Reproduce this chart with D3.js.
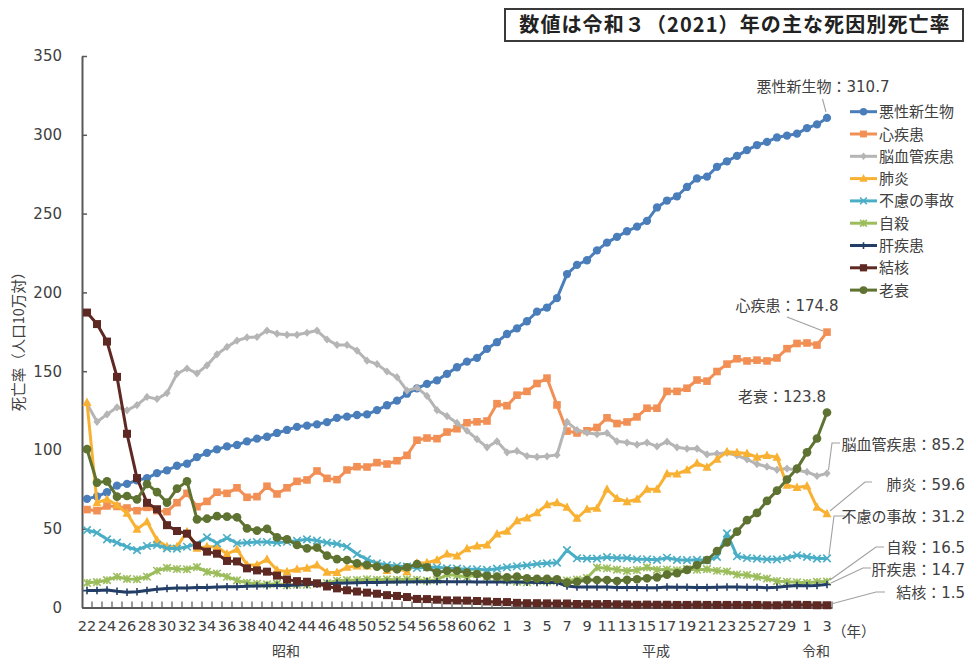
<!DOCTYPE html>
<html><head><meta charset="utf-8">
<script src="https://cdn.jsdelivr.net/npm/d3@7"></script>
<style>body{margin:0;background:#fff}svg{display:block}</style>
</head><body><svg id="c" width="968" height="659"></svg>
<script>
// ---------- data ----------
const categories = ["22","23","24","25","26","27","28","29","30","31","32","33","34","35","36","37","38","39","40","41","42","43","44","45","46","47","48","49","50","51","52","53","54","55","56","57","58","59","60","61","62","63",
"1","2","3","4","5","6","7","8","9","10","11","12","13","14","15","16","17","18","19","20","21","22","23","24","25","26","27","28","29","30",
"1","2","3"];
const seriesNames = ["悪性新生物","心疾患","脳血管疾患","肺炎","不慮の事故","自殺","肝疾患","結核","老衰"];
const cancer = [69.0,70.6,73.2,77.4,78.5,80.8,82.2,85.3,87.1,90.0,91.3,95.5,98.2,100.4,102.3,103.2,105.5,107.2,108.4,110.8,112.7,114.7,115.5,116.3,117.7,120.4,121.2,122.2,122.6,125.3,128.4,131.3,135.7,139.1,142.0,144.2,148.3,152.5,156.1,158.5,164.2,168.4,173.6,177.2,181.7,187.8,190.4,196.4,211.6,217.5,220.4,226.7,231.6,235.2,238.8,241.7,245.4,253.9,258.3,261.0,266.9,272.3,273.5,279.7,283.2,286.6,290.3,293.5,295.5,298.3,299.5,300.7,304.2,306.6,310.7];
const heart = [62.2,61.5,64.5,64.2,63.2,61.5,63.6,61.5,60.9,66.6,72.5,64.0,67.4,73.2,72.5,76.0,70.0,70.4,77.0,72.1,76.0,80.1,81.0,86.7,82.0,81.2,87.3,89.4,89.2,92.0,91.1,93.2,96.6,106.2,107.6,107.2,111.4,113.5,117.3,117.9,118.4,129.4,128.1,134.8,137.2,142.2,145.6,128.6,112.0,110.8,112.2,114.3,120.4,116.8,117.8,121.0,126.5,126.5,137.2,137.2,139.2,144.4,143.7,149.8,154.5,157.9,156.5,157.0,156.5,158.4,164.3,167.6,167.9,166.6,174.8];
const cerebro = [129.4,117.9,122.6,127.1,125.2,128.5,133.7,132.4,136.1,148.4,151.7,148.6,153.7,160.7,165.4,169.4,171.4,171.7,175.8,173.8,173.1,173.1,174.4,175.8,170.1,166.7,166.7,163.1,156.7,154.5,149.8,146.2,137.7,139.5,134.3,125.3,121.5,117.2,112.2,106.9,101.7,105.5,98.5,99.4,96.2,95.6,96.0,96.9,117.9,112.6,111.0,110.0,110.8,105.5,104.7,103.4,104.7,102.3,105.3,101.7,100.8,100.9,97.2,97.7,98.2,96.5,94.1,91.1,89.4,87.4,88.2,87.1,86.1,83.5,85.2];
const pneumonia = [130.1,66.6,68.7,65.1,59.8,49.7,54.5,42.9,38.6,38.6,48.2,37.6,38.6,38.6,34.0,37.0,27.0,27.0,30.6,23.9,22.8,24.3,24.9,27.0,22.5,22.2,25.6,26.4,26.4,27.0,23.5,25.1,22.8,28.1,28.5,30.2,34.0,32.7,37.4,39.1,39.7,46.7,48.4,55.1,56.9,60.2,65.3,66.6,63.6,56.7,62.4,63.0,75.1,69.2,67.2,68.7,75.1,75.1,85.0,84.8,87.3,91.6,89.0,94.1,98.9,98.4,97.8,95.4,96.5,95.4,77.7,76.2,77.2,63.6,59.6];
const accidents = [49.2,47.5,43.3,41.2,38.6,36.5,39.1,39.7,37.6,37.4,38.6,40.4,44.6,40.8,44.2,40.8,41.2,41.6,41.6,41.2,41.8,42.4,43.3,42.5,41.2,40.4,38.6,34.0,30.6,28.1,27.0,26.4,26.0,25.1,25.6,25.6,24.9,24.7,24.3,24.3,23.9,24.7,25.6,26.2,26.8,27.7,28.1,28.5,36.5,31.3,31.1,31.1,32.0,31.4,31.4,30.7,30.7,30.3,31.6,30.3,30.1,30.3,30.0,32.2,47.1,32.6,31.5,31.1,30.6,30.6,31.5,33.2,32.2,31.1,31.2];
const suicide = [15.7,16.2,17.4,19.6,18.2,18.0,19.6,23.4,25.2,24.5,24.3,25.7,22.7,21.6,19.6,17.3,15.7,15.1,14.7,15.2,14.2,14.5,14.5,15.3,15.6,17.0,17.4,17.5,18.0,17.6,17.9,17.6,18.0,17.7,17.1,17.5,21.0,20.4,19.4,21.2,19.6,19.4,17.3,16.4,16.1,16.9,16.6,16.9,17.2,17.8,18.8,25.4,25.0,24.1,23.3,23.8,25.5,24.0,24.2,23.7,24.4,24.0,24.4,23.4,22.9,21.0,20.7,19.5,18.5,16.8,16.4,16.1,15.7,16.4,16.5];
const liver = [10.8,10.9,11.2,10.4,9.8,10.1,10.9,11.6,12.1,12.4,12.5,12.7,12.8,13.1,13.3,13.3,13.6,13.7,13.8,14.0,14.1,14.3,14.6,14.9,15.2,15.4,15.6,15.8,15.9,16.0,16.1,16.2,16.3,16.4,16.4,16.5,16.4,16.4,16.4,16.3,16.3,16.3,16.2,16.2,16.1,16.0,16.0,15.9,13.7,13.1,13.0,13.0,13.1,12.8,12.8,12.7,12.6,12.6,13.0,12.9,12.9,12.8,12.8,12.9,13.1,13.0,12.9,12.9,12.6,12.9,13.6,14.0,13.9,14.1,14.7];
const tuberculosis = [187.2,179.9,168.8,146.4,110.3,82.2,66.5,62.4,52.3,48.6,46.9,39.4,35.5,34.2,29.6,29.3,24.9,23.6,22.8,20.3,17.8,16.8,16.4,15.4,13.4,12.2,11.0,10.2,9.5,8.8,7.9,7.4,6.7,5.5,5.4,5.0,4.6,4.5,4.4,4.2,3.9,3.6,3.5,3.0,2.8,2.8,2.7,2.6,2.6,2.3,2.2,2.2,2.3,2.1,2.0,1.8,1.9,1.8,1.8,1.7,1.7,1.8,1.7,1.7,1.7,1.7,1.6,1.7,1.5,1.5,1.8,1.8,1.7,1.5,1.5];
const senility = [100.5,79.3,80.1,70.4,70.8,68.7,78.4,73.3,66.6,75.5,80.1,56.0,56.4,58.0,57.7,57.3,50.3,48.8,50.0,44.6,43.3,39.7,37.6,38.1,33.0,30.8,30.2,28.1,27.0,26.0,24.9,24.3,25.6,27.6,25.6,22.2,23.4,23.4,22.2,21.3,20.1,19.6,19.2,19.7,18.6,18.3,18.3,18.0,15.8,16.4,17.5,17.5,17.5,16.9,17.6,18.0,18.6,19.2,20.9,21.8,23.9,27.0,30.2,35.9,41.4,48.2,55.5,60.1,67.7,74.2,81.3,88.2,98.5,107.3,123.8];
const yTicks = [0,50,100,150,200,250,300,350];
const eraNames = ["昭和","平成","令和"];
const latestLabels = ["悪性新生物：310.7","心疾患：174.8","脳血管疾患：85.2","肺炎：59.6","不慮の事故：31.2","自殺：16.5","肝疾患：14.7","結核：1.5","老衰：123.8"];
const titleText = "数値は令和３（2021）年の主な死因別死亡率";
const yTitle = "死亡率（人口10万対）";
const yearUnit = "（年）";

// ---------- styles ----------
const allValues = [cancer,heart,cerebro,pneumonia,accidents,suicide,liver,tuberculosis,senility];
const colors = ["#4a7ebb","#f28f55","#b5b5b5","#f8b133","#4aaec6","#9cbd5c","#233e66","#5e2823","#5e7331"];
const markers = ["circle","square","diamond","triangle","x","asterisk","plus","square","circle"];
const FONT = "'DejaVu Sans','Noto Sans CJK JP',sans-serif";
const TXT = "#404040";

const svg = d3.select("#c");
const x = d3.scaleBand().domain(d3.range(categories.length)).range([82, 832]).padding(0);
const cx = i => x(i) + x.bandwidth()/2;
const y = d3.scaleLinear().domain([0,350]).range([607.6, 56]);

// title box
svg.append("rect").attr("x",505).attr("y",9).attr("width",458).attr("height",32)
  .attr("fill","#fff").attr("stroke","#3a3a3a").attr("stroke-width",2);
svg.append("text").attr("x",735).attr("y",32).attr("text-anchor","middle")
  .attr("font-family","'Noto Sans CJK JP',sans-serif").attr("font-weight","bold")
  .attr("font-size",20).attr("letter-spacing",1.1).attr("fill","#222").text(titleText);

// y axis
const yAxis = d3.axisLeft(y).tickValues(yTicks).tickSizeInner(-5).tickSizeOuter(0).tickPadding(20);
const gy = svg.append("g").attr("transform","translate(82,0)").call(yAxis);
gy.select(".domain").attr("stroke","#595959").attr("stroke-width",2);
gy.selectAll(".tick line").attr("stroke","#595959").attr("stroke-width",1.5);
gy.selectAll(".tick text").attr("font-family",FONT).attr("font-size",15).attr("fill",TXT);

svg.append("text").attr("transform","translate(24,338) rotate(-90)").attr("text-anchor","middle")
  .attr("font-family","'Noto Sans CJK JP',sans-serif").attr("font-size",14.5).attr("fill",TXT).text(yTitle);

// x axis
const xAxis = d3.axisBottom(x).tickSize(0).tickPadding(15)
  .tickFormat((d,i) => i % 2 === 0 ? categories[i] : "");
const gx = svg.append("g").attr("transform","translate(0,607.6)").call(xAxis);
gx.select(".domain").attr("stroke","#595959").attr("stroke-width",2);
gx.selectAll(".tick text").attr("font-family",FONT).attr("font-size",14.5).attr("fill",TXT).attr("dy","0.55em");
// inner tick marks at band boundaries
const bounds = d3.range(1, categories.length).map(i => x(i)).concat([x(categories.length-1)+x.bandwidth()]);
svg.append("g").selectAll("line").data(bounds).join("line")
  .attr("x1",d=>d).attr("x2",d=>d).attr("y1",607.6).attr("y2",601.5)
  .attr("stroke","#595959").attr("stroke-width",1.2);
svg.append("text").attr("x",832).attr("y",637).attr("text-anchor","start")
  .attr("font-family","'Noto Sans CJK JP',sans-serif").attr("font-size",14.5).attr("fill",TXT).text(yearUnit);
// era labels
const eraIdx = [20, 57, 73];
eraNames.forEach((n,k) => {
  svg.append("text").attr("x",cx(eraIdx[k])-1).attr("y",656).attr("text-anchor","middle")
    .attr("font-family","'Noto Sans CJK JP',sans-serif").attr("font-size",14).attr("fill",TXT).text(n);
});

// marker path
function markerPath(type, s) {
  const h = s/2;
  switch(type) {
    case "circle": return d3.symbol(d3.symbolCircle, s*s*0.8)();
    case "square": return `M${-h},${-h}H${h}V${h}H${-h}Z`;
    case "diamond": return `M0,${-h-0.5}L${h},0L0,${h+0.5}L${-h},0Z`;
    case "triangle": return `M0,${-h-1}L${h+0.5},${h-0.5}L${-h-0.5},${h-0.5}Z`;
    case "x": return `M${-h},${-h}L${h},${h}M${-h},${h}L${h},${-h}`;
    case "asterisk": return `M${-h},${-h}L${h},${h}M${-h},${h}L${h},${-h}M0,${-h}V${h}`;
    case "plus": return `M0,${-h}V${h}M${-h},0H${h}`;
  }
}
const strokeMarkers = new Set(["x","asterisk","plus"]);
const mSize = [8.2,7.6,7.2,8,7.5,7.5,7.5,8,8.6];

const line = d3.line().x((d,i)=>cx(i)).y(d=>y(d));
allValues.forEach((vals,k) => {
  const g = svg.append("g");
  g.append("path").datum(vals).attr("d",line).attr("fill","none")
    .attr("stroke",colors[k]).attr("stroke-width",3).attr("stroke-linejoin","round");
  const mp = markerPath(markers[k], mSize[k]);
  const isStroke = strokeMarkers.has(markers[k]);
  g.selectAll("path.m").data(vals).join("path").attr("class","m")
    .attr("transform",(d,i)=>`translate(${cx(i)},${y(d)})`).attr("d",mp)
    .attr("fill",isStroke?"none":colors[k]).attr("stroke",colors[k])
    .attr("stroke-width",isStroke?1.6:0);
});

// legend
seriesNames.forEach((n,k) => {
  const yy = 111.7 + k*22.3;
  const g = svg.append("g");
  g.append("line").attr("x1",850).attr("x2",877).attr("y1",yy).attr("y2",yy)
    .attr("stroke",colors[k]).attr("stroke-width",3);
  const isStroke = strokeMarkers.has(markers[k]);
  g.append("path").attr("transform",`translate(863.5,${yy})`).attr("d",markerPath(markers[k], mSize[k]*0.9))
    .attr("fill",isStroke?"none":colors[k]).attr("stroke",colors[k]).attr("stroke-width",isStroke?1.6:0);
  g.append("text").attr("x",879).attr("y",yy+5.5).attr("font-family","'Noto Sans CJK JP',sans-serif")
    .attr("font-size",15).attr("fill",TXT).text(n);
});

// latest-value annotations
const ann = [
  {k:0, anchor:"middle", tx:823, ty:92, path:[[822.5,99],[826,112]]},
  {k:1, anchor:"middle", tx:787, ty:311, path:[[787,317],[823,331]]},
  {k:8, anchor:"middle", tx:782, ty:402, path:null},
  {k:2, anchor:"end", tx:965, ty:450, path:[[840,443],[832,443],[828.5,470]]},
  {k:3, anchor:"end", tx:965, ty:490, path:[[872,482],[865,482],[830,511]]},
  {k:4, anchor:"end", tx:965, ty:522, path:[[845,516],[834,516],[829,555]]},
  {k:5, anchor:"end", tx:965, ty:553, path:[[884,547],[876,547],[830,580]]},
  {k:6, anchor:"end", tx:965, ty:575, path:[[871,568],[863,568],[831,583]]},
  {k:7, anchor:"end", tx:965, ty:598, path:[[885,592],[876,592],[831,604]]}
];
ann.forEach(a => {
  if (a.path) {
    svg.append("path").attr("d", d3.line()(a.path)).attr("fill","none")
      .attr("stroke","#a0a0a0").attr("stroke-width",1.1);
  }
  svg.append("text").attr("x",a.tx).attr("y",a.ty).attr("text-anchor",a.anchor)
    .attr("font-family",FONT).attr("font-size",15).attr("fill",TXT).text(latestLabels[a.k]);
});
</script></body></html>
